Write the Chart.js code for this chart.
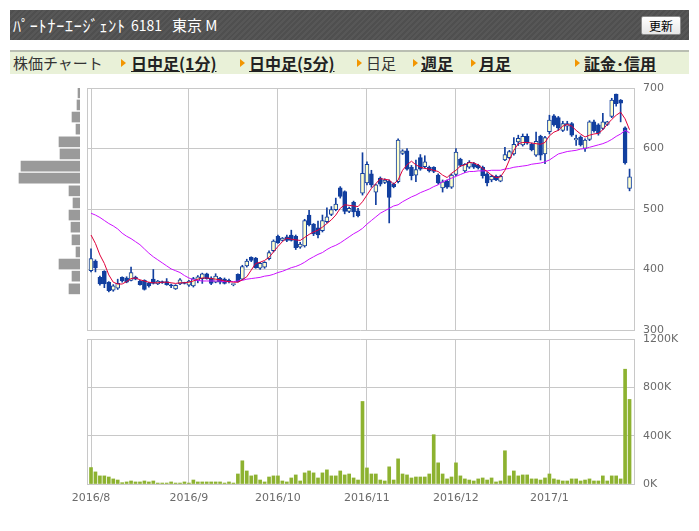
<!DOCTYPE html>
<html lang="ja">
<head>
<meta charset="utf-8">
<title>ﾊﾟｰﾄﾅｰｴｰｼﾞｪﾝﾄ 6181 株価チャート</title>
<script src="https://cdn.jsdelivr.net/npm/chart.js@4.4.1/dist/chart.umd.min.js"></script>
<style>
  html, body { margin: 0; padding: 0; background: #fff; }
  body { width: 699px; height: 531px; position: relative; overflow: hidden; font-family: "Noto Sans CJK JP", sans-serif; }
  .hdr { position: absolute; left: 10px; top: 10px; width: 679px; height: 30px; color: #fff;
         background: repeating-linear-gradient(135deg, #575757 0 2px, #4f4f4f 2px 4px); }
  .hdr span { position: absolute; top: 0; line-height: 30px; white-space: nowrap; }
  .hdr .btn { position: absolute; left: 631px; top: 6px; width: 38px; height: 17px; line-height: 17px; text-align: center;
              font-size: 12px; color: #000; background: linear-gradient(#fff, #e6e6e6); border: 1px solid #8a8a8a; border-radius: 2px; }
  .nav { position: absolute; left: 10px; top: 50px; width: 679px; height: 22px; background: #e9f1d8; border-top: 2px solid #b9beb2; }
  .nav span { position: absolute; top: 0; line-height: 22px; font-size: 15px; color: #333; white-space: nowrap; }
  .nav span.lk { font-weight: bold; font-size: 16px; text-decoration: underline; color: #222; }
  .nav i { position: absolute; top: 7px; width: 0; height: 0; border-left: 5px solid #f29600;
           border-top: 4px solid transparent; border-bottom: 4px solid transparent; }
  canvas { position: absolute; }
</style>
</head>
<body>
<div class="hdr">
  <span style="left:3px;font-size:16px;letter-spacing:0.8px">ﾊﾟｰﾄﾅｰｴｰｼﾞｪﾝﾄ</span>
  <span style="left:121px;font-size:14px">6181</span>
  <span style="left:162px;font-size:15px">東京 M</span>
  <div class="btn">更新</div>
</div>
<div class="nav">
  <span style="left:3px">株価チャート</span>
  <i style="left:111px"></i><span class="lk" style="left:121px">日中足(1分)</span>
  <i style="left:230px"></i><span class="lk" style="left:239px">日中足(5分)</span>
  <i style="left:347px"></i><span style="left:356px">日足</span>
  <i style="left:403px"></i><span class="lk" style="left:411px">週足</span>
  <i style="left:461px"></i><span class="lk" style="left:469px">月足</span>
  <i style="left:565px"></i><span class="lk" style="left:574px">証金･信用</span>
</div>
<canvas id="profileChart" width="87" height="258" style="left:0;top:80px"></canvas>
<canvas id="priceChart" width="699" height="258" style="left:0;top:80px"></canvas>
<canvas id="volumeChart" width="699" height="190" style="left:0;top:331px"></canvas>
<script>
// 日足データ (2016/8/1 〜 2017/1, 1営業日=1本)
const monthStarts = [0, 22, 42, 62, 82, 103];
const monthLabels = ['2016/8', '2016/9', '2016/10', '2016/11', '2016/12', '2017/1'];

const opens = [398, 414, 387, 397, 379, 366, 369, 387, 386, 382, 387, 381, 382, 378, 384, 376, 380, 380, 374, 368,
  376, 378, 374, 373, 382, 385, 393, 386, 379, 386, 384, 382, 375, 392, 384, 406, 420, 419, 402, 404,
  418, 431, 455, 448, 454, 457, 455, 437, 439, 490, 475, 469, 464, 479, 491, 499, 535, 529, 496, 511,
  497, 526, 543, 558, 528, 551, 544, 546, 541, 545, 592, 596, 569, 556, 585, 570, 569, 569, 556, 535,
  546, 536, 557, 582, 563, 569, 575, 572, 569, 558, 548, 554, 546, 581, 585, 591, 611, 606, 620, 607,
  589, 620, 591, 628, 654, 651, 630, 637, 641, 614, 619, 600, 615, 644, 639, 633, 640, 653, 690, 680,
  634, 534];
const highs = [434, 416, 389, 398, 380, 375, 384, 388, 388, 404, 389, 382, 383, 379, 400, 382, 381, 385, 376, 375,
  385, 379, 382, 387, 390, 394, 394, 388, 393, 387, 386, 384, 376, 393, 407, 417, 421, 420, 412, 413,
  431, 449, 457, 453, 457, 465, 457, 445, 483, 498, 476, 480, 490, 502, 504, 518, 537, 530, 503, 513,
  501, 593, 578, 564, 541, 553, 550, 548, 543, 616, 598, 600, 572, 581, 590, 588, 571, 570, 558, 548,
  548, 558, 600, 584, 575, 580, 577, 574, 571, 560, 556, 556, 556, 602, 597, 618, 622, 624, 624, 609,
  627, 622, 620, 655, 656, 653, 645, 645, 643, 622, 621, 616, 646, 647, 641, 658, 645, 683, 690, 681,
  636, 566];
const lows = [396, 396, 374, 370, 363, 364, 367, 379, 378, 381, 383, 374, 366, 371, 376, 375, 377, 374, 370, 367,
  375, 376, 372, 371, 378, 377, 384, 375, 378, 376, 376, 378, 373, 379, 383, 404, 413, 402, 400, 402,
  416, 429, 443, 447, 446, 447, 433, 435, 437, 472, 456, 452, 462, 477, 489, 497, 518, 492, 494, 487,
  487, 523, 540, 536, 507, 538, 542, 477, 535, 543, 590, 564, 548, 545, 564, 568, 561, 560, 541, 528,
  534, 534, 555, 570, 560, 567, 567, 566, 551, 538, 545, 547, 545, 580, 583, 589, 605, 604, 607, 596,
  587, 581, 575, 624, 637, 630, 628, 630, 620, 605, 604, 595, 613, 627, 622, 631, 638, 651, 670, 644,
  574, 530];
const closes = [418, 403, 376, 376, 365, 373, 377, 381, 379, 395, 384, 375, 367, 373, 377, 381, 378, 375, 373, 374,
  383, 377, 381, 385, 388, 393, 385, 377, 389, 379, 377, 380, 375, 380, 405, 414, 415, 403, 410, 412,
  428, 447, 444, 452, 448, 448, 436, 442, 481, 474, 459, 457, 481, 487, 499, 508, 521, 496, 501, 495,
  489, 559, 574, 540, 540, 541, 548, 519, 537, 614, 596, 566, 555, 565, 566, 578, 563, 562, 543, 545,
  536, 556, 594, 572, 574, 577, 569, 568, 555, 543, 554, 548, 554, 590, 595, 607, 617, 620, 609, 598,
  612, 589, 618, 647, 639, 634, 641, 641, 622, 617, 606, 614, 644, 629, 625, 644, 644, 680, 674, 675,
  576, 553];

// 移動平均線 (赤: 短期, 紫: 長期)
const maShort = [457, 443, 424, 410, 391, 379, 376, 376, 380, 385, 386, 383, 381, 379, 378, 378, 379, 379, 378, 377,
  378, 378, 379, 381, 384, 386, 386, 385, 384, 383, 381, 380, 379, 379, 383, 388, 399, 410, 412, 415,
  420, 429, 438, 446, 452, 450, 449, 448, 453, 458, 462, 465, 470, 476, 482, 490, 501, 507, 506, 505,
  504, 512, 523, 534, 542, 550, 549, 548, 541, 548, 564, 573, 579, 573, 569, 567, 566, 564, 562, 556,
  552, 559, 564, 571, 573, 577, 576, 573, 567, 562, 556, 552, 553, 564, 581, 597, 608, 610, 610, 609,
  608, 607, 610, 621, 627, 630, 637, 640, 637, 630, 624, 619, 622, 624, 625, 631, 640, 648, 655, 660,
  649, 631];
const maLong = [493, 490, 486, 481, 476, 472, 467, 460, 455, 451, 446, 441, 434, 427, 421, 416, 411, 406, 401, 398,
  395, 390, 386, 383, 382, 381, 381, 381, 381, 381, 380, 380, 380, 381, 382, 384, 385, 386, 387, 389,
  390, 392, 395, 397, 400, 403, 405, 408, 412, 417, 421, 425, 428, 433, 437, 440, 444, 449, 454, 459,
  463, 468, 475, 481, 487, 493, 497, 501, 505, 507, 512, 516, 520, 523, 527, 530, 533, 537, 540, 545,
  548, 551, 554, 557, 560, 562, 562, 563, 563, 563, 564, 564, 564, 566, 567, 569, 570, 571, 572, 574,
  575, 576, 578, 581, 586, 591, 593, 595, 596, 597, 599, 600, 602, 604, 606, 608, 611, 615, 620, 624,
  630, 626];

// 出来高 (千株)
const volumes = [136, 100, 67, 67, 58, 42, 33, 11, 17, 25, 17, 17, 25, 17, 25, 8, 8, 8, 17, 8,
  8, 17, 8, 33, 17, 17, 17, 17, 17, 17, 8, 17, 8, 83, 192, 108, 67, 75, 33, 17,
  58, 67, 67, 25, 17, 50, 75, 25, 92, 108, 92, 50, 92, 117, 67, 67, 108, 75, 83, 50,
  33, 683, 133, 83, 83, 33, 25, 142, 33, 208, 83, 75, 50, 58, 58, 58, 83, 408, 175, 83,
  42, 58, 175, 67, 42, 33, 25, 42, 50, 33, 50, 17, 25, 275, 67, 108, 67, 75, 75, 42,
  42, 33, 50, 83, 42, 33, 25, 25, 42, 42, 25, 33, 42, 25, 25, 67, 25, 67, 67, 42,
  950, 700];

// 価格帯別出来高 (相対値)
const profileLevels = [692, 672, 652, 632, 611, 591, 571, 551, 530, 510, 490, 470, 449, 429, 409, 389, 368];
const profileVolume = [2, 3, 8, 4, 21, 20, 59, 61, 11, 7, 11, 9, 8, 4, 21, 8, 11];

const candleBlue = '#123f9f';
const upFill = '#ffffcc';
const gridColor = '#c8c8c8';
const tickFont = { family: 'DejaVu Sans', size: 11 };
const tickColor = '#6b6b6b';

const idx = closes.map((_, i) => i);
const monthTicks = (scale) => { scale.ticks = monthStarts.map(v => ({ value: v })); };

// 右側の目盛り (ラベルの余白は透明な目盛り線で取る)
const rightAxis = (min, max, step, fmt) => ({
  position: 'right', min: min, max: max,
  afterFit: (s) => { s.width = 65; },
  ticks: { stepSize: step, padding: 0, color: tickColor, font: tickFont, callback: fmt },
  grid: { color: gridColor, drawTicks: true, tickLength: 9, tickColor: 'rgba(0,0,0,0)' },
  border: { color: gridColor }
});
const leftBorder = (min, max) => ({
  position: 'left', min: min, max: max,
  afterFit: (s) => { s.width = 0; },
  ticks: { display: false },
  grid: { display: false },
  border: { color: gridColor }
});

// ローソク足 + 移動平均
new Chart(document.getElementById('priceChart'), {
  type: 'bar',
  data: {
    datasets: [
      {
        type: 'line', data: idx.map(i => ({ x: i, y: maShort[i] })),
        borderColor: '#e0003a', borderWidth: 1, pointRadius: 0, tension: 0, order: 0
      },
      {
        type: 'line', data: idx.map(i => ({ x: i, y: maLong[i] })),
        borderColor: '#cc11ff', borderWidth: 1, pointRadius: 0, tension: 0, order: 0
      },
      {
        data: idx.map(i => ({ x: i, y: [opens[i], closes[i]] })),
        backgroundColor: (c) => closes[c.dataIndex] >= opens[c.dataIndex] ? upFill : candleBlue,
        borderColor: candleBlue, borderWidth: 1, borderSkipped: false,
        barThickness: 4, minBarLength: 1, grouped: false, order: 1
      },
      {
        data: idx.map(i => ({ x: i, y: [lows[i], highs[i]] })),
        backgroundColor: candleBlue, barThickness: 1, grouped: false, order: 2
      }
    ]
  },
  options: {
    responsive: false,
    animation: false,
    layout: { padding: { top: 8, bottom: 8, left: 87, right: 0 } },
    plugins: { legend: { display: false }, tooltip: { enabled: false } },
    scales: {
      x: {
        type: 'linear', min: -0.9, max: 122, offset: false,
        afterBuildTicks: monthTicks,
        afterFit: (s) => { s.height = 0; },
        ticks: { display: false, padding: 0 },
        grid: { color: gridColor, drawTicks: false, offset: false },
        border: { display: false }
      },
      y: rightAxis(300, 700, 100, (v) => v),
      yl: leftBorder(300, 700)
    }
  }
});

// 出来高
new Chart(document.getElementById('volumeChart'), {
  type: 'bar',
  data: {
    datasets: [{
      data: idx.map(i => ({ x: i, y: volumes[i] })),
      backgroundColor: '#8db230', barThickness: 3
    }]
  },
  options: {
    responsive: false,
    animation: false,
    layout: { padding: { top: 8, bottom: 0, left: 87, right: 0 } },
    plugins: { legend: { display: false }, tooltip: { enabled: false } },
    scales: {
      x: {
        type: 'linear', min: -0.9, max: 122, offset: false,
        afterBuildTicks: monthTicks,
        afterFit: (s) => { s.height = 37; },
        ticks: {
          autoSkip: false, maxRotation: 0, padding: 8, color: tickColor, font: tickFont,
          callback: (v) => monthLabels[monthStarts.indexOf(v)]
        },
        grid: { color: gridColor, drawTicks: false, offset: false },
        border: { color: gridColor }
      },
      y: rightAxis(0, 1200, 400, (v) => v + 'K'),
      yl: leftBorder(0, 1200)
    }
  }
});

// 価格帯別出来高
new Chart(document.getElementById('profileChart'), {
  type: 'bar',
  data: {
    datasets: [{
      data: profileLevels.map((p, i) => ({ x: profileVolume[i], y: p })),
      backgroundColor: '#9a9a9a', barThickness: 10
    }]
  },
  options: {
    indexAxis: 'y',
    responsive: false,
    animation: false,
    layout: { padding: { top: 8, bottom: 8, left: 0, right: 7 } },
    plugins: { legend: { display: false }, tooltip: { enabled: false } },
    scales: {
      x: { type: 'linear', min: 0, max: 80, reverse: true, display: false },
      y: { type: 'linear', min: 300, max: 700, display: false, offset: false }
    }
  }
});
</script>
</body>
</html>
